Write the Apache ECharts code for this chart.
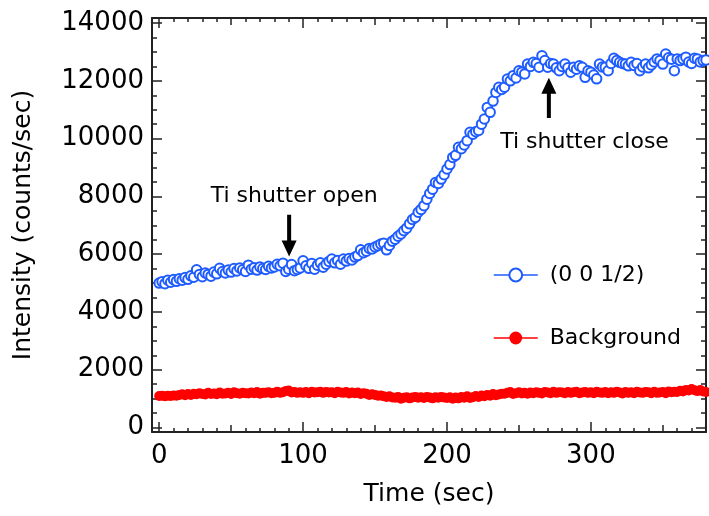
<!DOCTYPE html>
<html>
<head>
<meta charset="utf-8">
<script src="https://cdn.jsdelivr.net/npm/echarts@6/dist/echarts.min.js"></script>
<style>
  html, body { margin: 0; padding: 0; background: #fff; }
  #chart { width: 709px; height: 516px; }
</style>
</head>
<body>
<div id="chart"></div>
<script>
// sampling of both scans (sec)
var timeStart = 0;
var timeStep = 2;

// (0 0 1/2) peak intensity, counts/sec, one value every 2 sec from t = 0
var peak = [
    5000, 5050, 4980, 5100, 5030, 5120, 5060, 5150, 5100, 5190,
    5130, 5250, 5200, 5460, 5300, 5220, 5350, 5300, 5240, 5380,
    5320, 5510, 5400, 5350, 5450, 5380, 5500, 5420, 5520, 5460,
    5400, 5620, 5480, 5530, 5450, 5560, 5500, 5470, 5580, 5520,
    5560, 5650, 5600, 5690, 5400, 5480, 5640, 5430, 5470, 5520,
    5770, 5600, 5510, 5680, 5480, 5620, 5700, 5550, 5650, 5750,
    5830, 5700, 5780, 5650, 5830, 5760, 5850, 5800, 5900, 5950,
    6150, 6050, 6100, 6200, 6180, 6250, 6290, 6350, 6380, 6150,
    6300, 6450, 6520, 6620, 6700, 6810, 6900, 7050, 7200, 7270,
    7450, 7550, 7680, 7900, 8100, 8250, 8480, 8450, 8600, 8750,
    8950, 9100, 9350, 9420, 9700, 9650, 9780, 9930, 10220, 10150,
    10240, 10280, 10500, 10680, 11080, 10910, 11300, 11600, 11780, 11700,
    11780, 12060, 12000, 12180, 12100, 12350, 12300, 12240, 12580, 12500,
    12640, 12600, 12470, 12870, 12700, 12470, 12600, 12580, 12450, 12350,
    12500, 12580, 12450, 12300, 12470, 12400, 12520, 12470, 12120, 12350,
    12300, 12200, 12070, 12580, 12480, 12470, 12350, 12600, 12780, 12700,
    12640, 12600, 12580, 12520, 12640, 12530, 12600, 12350, 12480, 12580,
    12450, 12550, 12650, 12760, 12700, 12580, 12930, 12800, 12750, 12350,
    12760, 12700, 12760, 12820, 12650, 12600, 12780, 12760, 12650, 12700,
    12720
];

// background counts/sec, same sampling
var background = [
    1090, 1100, 1080, 1100, 1090, 1110, 1100, 1130, 1150, 1120,
    1160, 1130, 1170, 1150, 1190, 1160, 1140, 1200, 1160, 1180,
    1150, 1210, 1170, 1180, 1200, 1160, 1220, 1190, 1170, 1200,
    1190, 1180, 1210, 1190, 1230, 1170, 1200, 1200, 1220, 1190,
    1200, 1240, 1200, 1220, 1260, 1280, 1210, 1230, 1200, 1220,
    1200, 1230, 1190, 1240, 1210, 1220, 1240, 1200, 1230, 1210,
    1220, 1190, 1240, 1210, 1200, 1230, 1180, 1210, 1190, 1210,
    1160, 1190, 1170, 1130, 1150, 1130, 1100, 1110, 1080, 1060,
    1080, 1040, 1030, 1060, 1000, 1030, 1050, 1010, 1040, 1060,
    1030, 1050, 1020, 1060, 1040, 1010, 1050, 1030, 1060, 1040,
    1020, 1050, 1000, 1040, 1010, 1060, 1030, 1080, 1020, 1050,
    1090, 1060, 1110, 1080, 1130, 1100, 1160, 1120, 1140, 1170,
    1170, 1200, 1230, 1160, 1190, 1220, 1180, 1200, 1170, 1210,
    1190, 1220, 1200, 1180, 1230, 1210, 1190, 1240, 1200, 1220,
    1210, 1190, 1230, 1200, 1220, 1240, 1190, 1210, 1230, 1200,
    1220, 1190, 1240, 1210, 1200, 1230, 1190, 1220, 1200, 1240,
    1210, 1180, 1230, 1200, 1220, 1190, 1240, 1210, 1200, 1230,
    1220, 1190, 1240, 1200, 1210, 1230, 1190, 1250, 1220, 1240,
    1230, 1270, 1250, 1300, 1280, 1330, 1290, 1260, 1300, 1250,
    1230
];

var seriesNames = ['(0 0 1/2)', 'Background'];
var xRange = [-5, 380];
var yRange = [-155, 14175];

// arrows: tail -> tip, label centre (data coords)
var notes = [
    { text: 'Ti shutter open', tail: [90.3, 7365], tip: [90.3, 5920], label: [93.8, 8020] },
    { text: 'Ti shutter close', tail: [270.8, 10717], tip: [270.8, 12103], label: [295.6, 9880] }
];

function pairs(values) {
    return values.map(function (v, i) { return [timeStart + i * timeStep, v]; });
}

var font = 'DejaVu Sans';
var ink = '#222';

function xAxis(pos, split, len, main) {
    return {
        type: 'value', position: pos, min: xRange[0], max: xRange[1], splitNumber: split,
        axisLine: { show: main, onZero: false, lineStyle: { color: ink, width: 2 } },
        axisTick: { inside: true, length: len, lineStyle: { color: ink, width: 1.5 } },
        axisLabel: { show: main && pos === 'bottom', showMinLabel: false, showMaxLabel: false,
            margin: 11, fontSize: 26, color: '#000', fontFamily: font,
            formatter: function (v) { return String(v); } },
        splitLine: { show: false },
        name: main && pos === 'bottom' ? 'Time (sec)' : '',
        nameLocation: 'middle', nameGap: 50,
        nameTextStyle: { fontSize: 25, color: '#000', fontFamily: font }
    };
}

function yAxis(pos, split, len, main) {
    return {
        type: 'value', position: pos, min: yRange[0], max: yRange[1], splitNumber: split,
        axisLine: { show: main, onZero: false, lineStyle: { color: ink, width: 2 } },
        axisTick: { inside: true, length: len, lineStyle: { color: ink, width: 1.5 } },
        axisLabel: { show: main && pos === 'left', showMinLabel: false, showMaxLabel: false,
            margin: 8, fontSize: 26, color: '#000', fontFamily: font,
            formatter: function (v) { return String(v); } },
        splitLine: { show: false },
        name: main && pos === 'left' ? 'Intensity (counts/sec)' : '',
        nameLocation: 'middle', nameGap: 116,
        nameTextStyle: { fontSize: 25, color: '#000', fontFamily: font }
    };
}

var myChart = echarts.init(document.getElementById('chart'));

var option = {
    animation: false,
    grid: { left: 152, right: 3, top: 18, bottom: 84 },
    xAxis: [
        xAxis('bottom', 5, 10, true),
        xAxis('bottom', 8, 7, false),
        xAxis('bottom', 38, 4, false),
        xAxis('top', 5, 10, true),
        xAxis('top', 8, 7, false),
        xAxis('top', 38, 4, false)
    ],
    yAxis: [
        yAxis('left', 7, 10, true),
        yAxis('left', 28, 5, false),
        yAxis('right', 7, 10, true),
        yAxis('right', 28, 5, false)
    ],
    legend: {
        orient: 'vertical', left: 488, top: 259,
        itemWidth: 44, itemHeight: 16, itemGap: 41,
        textStyle: { fontSize: 22, color: '#000', fontFamily: font, padding: [0, 0, 0, 7] },
        lineStyle: { opacity: 1, width: 1.5 },
        data: seriesNames
    },
    series: [
        {
            name: seriesNames[0], type: 'line', data: pairs(peak),
            symbol: 'emptyCircle', symbolSize: 9.5,
            lineStyle: { opacity: 0 },
            itemStyle: { color: '#1f5cff', borderWidth: 1.5 },
            z: 3
        },
        {
            name: seriesNames[1], type: 'line', data: pairs(background),
            symbol: 'circle', symbolSize: 10,
            lineStyle: { opacity: 0 },
            itemStyle: { color: '#ff0000' },
            z: 2
        }
    ]
};

myChart.setOption(option);

// arrows and their captions, placed through the axes
var marks = [];
notes.forEach(function (n) {
    var a = myChart.convertToPixel({ xAxisIndex: 0, yAxisIndex: 0 }, n.tail);
    var b = myChart.convertToPixel({ xAxisIndex: 0, yAxisIndex: 0 }, n.tip);
    var c = myChart.convertToPixel({ xAxisIndex: 0, yAxisIndex: 0 }, n.label);
    var dir = b[1] > a[1] ? 1 : -1;
    var head = 16, hw = 7.5, sw = 2;
    var base = b[1] - dir * head;
    marks.push({
        type: 'polygon',
        shape: { points: [
            [a[0] - sw, a[1]], [a[0] + sw, a[1]], [a[0] + sw, base], [a[0] + hw, base],
            [b[0], b[1]], [a[0] - hw, base], [a[0] - sw, base]
        ] },
        style: { fill: '#000' }
    });
    marks.push({
        type: 'text', x: c[0], y: c[1],
        style: { text: n.text, fontSize: 22, fontFamily: font, fill: '#000',
            align: 'center', verticalAlign: 'middle' }
    });
});
myChart.setOption({ graphic: marks });
</script>
</body>
</html>
